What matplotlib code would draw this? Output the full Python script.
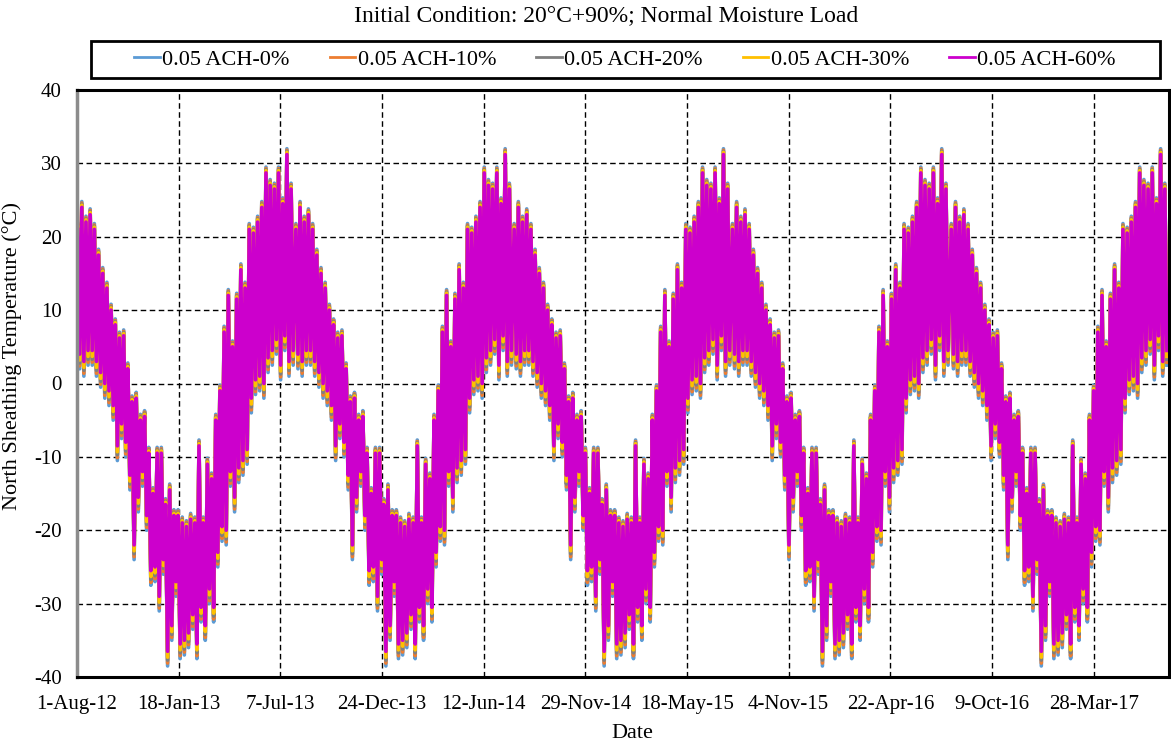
import numpy as np
import pandas as pd
import matplotlib
matplotlib.use("Agg")
import matplotlib.pyplot as plt
from matplotlib.ticker import FuncFormatter, MultipleLocator
from matplotlib.lines import Line2D
from matplotlib.patches import Rectangle

plt.rcParams["font.family"] = ["Liberation Serif", "DejaVu Serif"]
plt.rcParams["axes.unicode_minus"] = False

# Weekly peak / trough of the north sheathing temperature (°C) for one
# weather year beginning 1 August (week 0 = 1-7 Aug). The same weather year
# is run five times in a row, 2012-13 through 2016-17.
week_high = [21.0, 24.0, 22.0, 23.0, 21.0, 17.5, 15.0, 13.0, 10.0, 8.0,
             6.2, 6.5, 2.0, -2.5, -2.0, -5.0, -4.5, -9.5, -15.0, -9.5,
             -9.5, -16.5, -14.5, -18.0, -18.0, -19.0, -19.5, -18.5, -19.0, -8.5,
             -19.0, -11.0, -13.0, -5.0, -1.0, 7.0, 12.0, 5.0, 11.5, 15.5,
             13.0, 21.0, 20.5, 22.0, 24.0, 28.7, 27.0, 26.5, 28.7, 24.5,
             31.2, 26.5]
week_low = [4.0, 3.0, 4.5, 4.5, 3.0, 1.5, 0.0, -1.0, -3.0, -8.5,
            -5.5, -8.0, -12.5, -22.0, -15.5, -12.0, -18.0, -25.5, -25.0, -29.0,
            -24.0, -36.5, -33.0, -27.0, -35.5, -35.0, -34.0, -31.5, -35.5, -30.5,
            -33.0, -28.0, -30.5, -23.0, -19.5, -20.0, -12.0, -15.5, -11.5, -10.5,
            -9.0, -2.0, 0.5, 1.0, 0.0, 3.5, 4.5, 6.0, 2.5, 6.5,
            3.0, 4.5]
year_starts = ["2012-08-01", "2013-08-01", "2014-08-01", "2015-08-01", "2016-08-01"]

series_labels = ["0.05 ACH-0%", "0.05 ACH-10%", "0.05 ACH-20%",
                 "0.05 ACH-30%", "0.05 ACH-60%"]
series_colors = ["#5B9BD5", "#ED7D31", "#7F7F7F", "#FFC000", "#CC00CC"]
# extra swing of each case beyond the 60% case at weekly peaks and troughs (°C)
high_margin = [0.8, 0.6, 0.45, 0.3, 0.0]
low_margin = [2.0, 1.6, 1.2, 0.8, 0.0]

tick_dates = pd.date_range("2012-08-01", periods=11, freq="170D")
x_start, x_end = pd.Timestamp("2012-08-01"), pd.Timestamp("2017-08-01")

# peak early in each week, trough mid-week
times = []
for s in year_starts:
    s = pd.Timestamp(s)
    for w in range(len(week_high)):
        times.append(s + pd.Timedelta(days=7 * w + 1))
        times.append(s + pd.Timedelta(days=7 * w + 4.5))
times = pd.DatetimeIndex(times)

fig = plt.figure(figsize=(11.71, 7.47), dpi=100)
ax = fig.add_axes([77 / 1171, 70 / 747, 1092 / 1171, 587 / 747])

hi = np.array(week_high)
lo = np.array(week_low)
for label, color, hm, lm in zip(series_labels, series_colors, high_margin, low_margin):
    vals = np.empty(2 * len(hi))
    vals[0::2] = hi + hm
    vals[1::2] = lo - lm
    vals = np.tile(vals, len(year_starts))
    ax.plot(times, vals, color=color, lw=2.6, solid_joinstyle="round",
            label=label)

ax.set_xlim(x_start, x_end)
ax.set_ylim(-40, 40)
ax.yaxis.set_major_locator(MultipleLocator(10))
ax.yaxis.set_major_formatter(FuncFormatter(lambda v, p: f"{v:.0f}"))
ax.set_xticks(tick_dates)
ax.set_xticklabels([f"{d.day}-{d.strftime('%b-%y')}" for d in tick_dates])
ax.tick_params(axis="both", length=0, labelsize=15, colors="black")
ax.tick_params(axis="x", pad=13)
ax.tick_params(axis="y", pad=11)

ax.set_axisbelow(True)
ax.grid(True, color="black", linestyle=(0, (4, 2.5)), linewidth=1.0)
for side in ["top", "bottom", "right"]:
    ax.spines[side].set_linewidth(2.2)
    ax.spines[side].set_color("black")
ax.spines["left"].set_linewidth(2.5)
ax.spines["left"].set_color("#8c8c8c")

ax.set_xlabel("Date", fontsize=16)
ax.xaxis.set_label_coords((632 - 77) / 1092, (677 - 733) / 587)
ax.set_ylabel("North Sheathing Temperature (°C)", fontsize=16)
ax.yaxis.set_label_coords((12 - 77) / 1092, (677 - 356) / 587)
ax.xaxis.label.set_va("center")
ax.yaxis.label.set_va("center")

fig.text(0.518, 0.979, "Initial Condition: 20°C+90%; Normal Moisture Load",
         ha="center", va="center", fontsize=17)

# legend box spanning the width above the plot
fig.add_artist(Rectangle((91 / 1171, 1 - 78 / 747), 1069 / 1171, 37 / 747,
                         transform=fig.transFigure, fill=False,
                         edgecolor="black", linewidth=2))
handles = [Line2D([], [], color=c, lw=2) for c in series_colors]
leg = fig.legend(handles, series_labels, loc="center", ncol=5, mode="expand",
                 bbox_to_anchor=(130 / 1171, 1 - 78 / 747, 990 / 1171, 37 / 747),
                 frameon=False, fontsize=16, handlelength=1.15,
                 handletextpad=0.1, borderaxespad=0, borderpad=0.2)

fig.savefig("out.png", dpi=100)
